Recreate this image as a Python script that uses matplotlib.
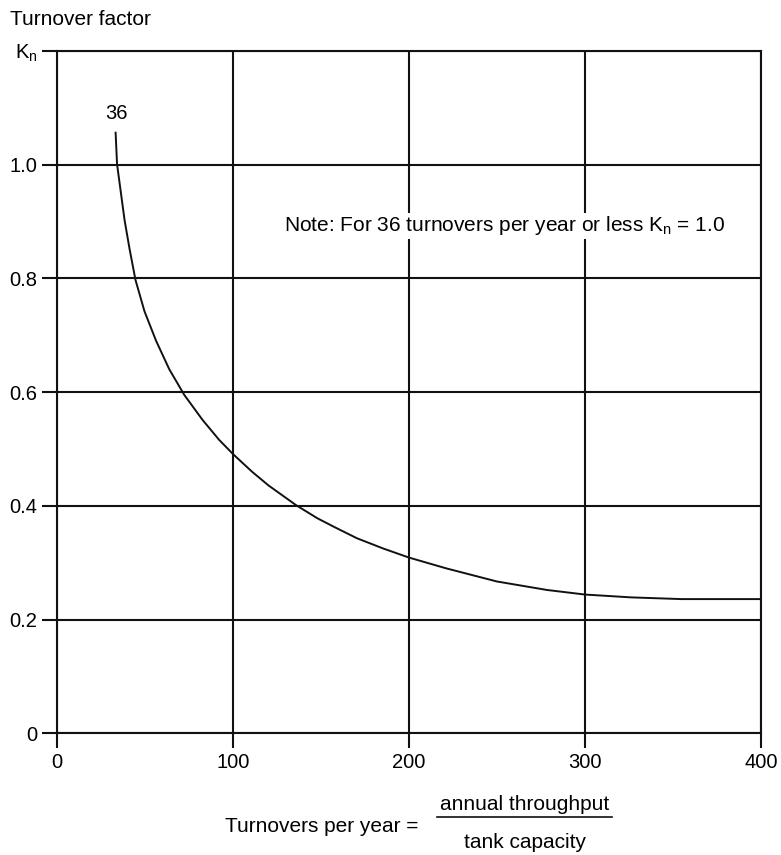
import matplotlib.pyplot as plt

plt.rcParams['font.family'] = ['Liberation Sans', 'DejaVu Sans']

# Turnovers per year vs turnover factor Kn
turnovers = [33.3, 34.1, 38.4, 41.2, 44.6, 49.7, 56.3, 63.8, 72.3, 82.7, 92.1, 100,
             110.8, 120.1, 135.9, 148, 157.4, 170.4, 185.3, 200, 221.2, 249.9,
             278.5, 300, 326.3, 355, 383.7, 400]
kn = [1.056, 1.001, 0.902, 0.852, 0.797, 0.742, 0.690, 0.640, 0.595, 0.551, 0.516, 0.491,
      0.460, 0.436, 0.401, 0.378, 0.363, 0.343, 0.325, 0.309, 0.290, 0.267,
      0.252, 0.244, 0.239, 0.236, 0.236, 0.236]

x_ticks = [0, 100, 200, 300, 400]
y_ticks = [0, 0.2, 0.4, 0.6, 0.8, 1.0, 1.2]
y_labels = ['0', '0.2', '0.4', '0.6', '0.8', '1.0', '$\\mathregular{K_n}$']

fig = plt.figure(figsize=(7.81, 8.55), dpi=100)
ax = fig.add_axes([0.073, 0.1423, 0.9014, 0.7983])

ax.plot(turnovers, kn, color='#111111', lw=1.4)

ax.set_xlim(0, 400)
ax.set_ylim(0, 1.2)
ax.set_xticks(x_ticks)
ax.set_yticks(y_ticks)
ax.set_yticklabels(y_labels)
ax.grid(True, color='#111111', lw=1.5)
ax.tick_params(direction='out', length=11, width=1.5, color='#111111',
               labelsize=14.5, pad=3)
for s in ax.spines.values():
    s.set_color('#111111')
    s.set_linewidth(1.5)

ax.text(34, 1.089, '36', fontsize=14.5, ha='center', va='center')
ax.text(129, 0.892, 'Note: For 36 turnovers per year or less $\\mathregular{K_n}$ = 1.0',
        fontsize=15, ha='left', va='center',
        bbox=dict(facecolor='white', edgecolor='none', pad=1))

fig.text(0.013, 0.977, 'Turnover factor', fontsize=15, ha='left', va='center')

# x axis label as a fraction
fig.text(0.536, 0.033, 'Turnovers per year =', fontsize=15, ha='right', va='center')
fig.text(0.672, 0.059, 'annual throughput', fontsize=15, ha='center', va='center')
fig.text(0.672, 0.015, 'tank capacity', fontsize=15, ha='center', va='center')
fig.add_artist(plt.Line2D([0.56, 0.784], [0.0445, 0.0445], color='#111111', lw=1.2))

fig.savefig('out.png', dpi=100)
